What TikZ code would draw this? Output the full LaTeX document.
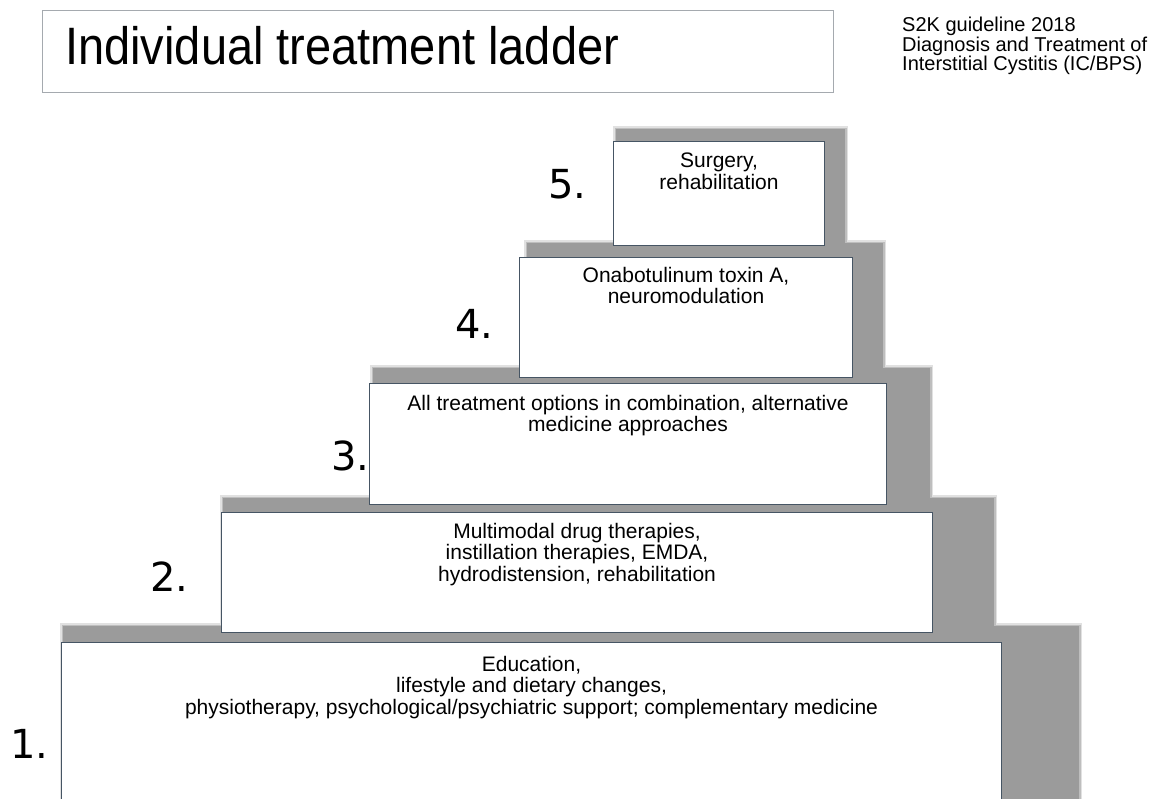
\documentclass[tikz,border=0pt]{standalone}
\usepackage{fontspec}
\setmainfont{Liberation Sans}
\newfontfamily\numfont{DejaVu Sans}
\usetikzlibrary{calc}
\definecolor{shd}{RGB}{155,155,155}
\definecolor{boxedge}{RGB}{70,85,100}
\definecolor{titleedge}{RGB}{165,170,175}
\tikzset{
  stepbox/.style={draw=boxedge, line width=1pt, fill=white, inner sep=0pt, anchor=north west},
  steptext/.style={font=\fontsize{21}{21.5}\selectfont, align=center, anchor=north, inner sep=0pt},
  stepnum/.style={font=\numfont\fontsize{40}{40}\selectfont, anchor=base west, inner sep=0pt},
  softA/.style={draw=shd!30!white, line width=6pt},
  softB/.style={draw=shd!65!white, line width=3pt},
  shadowfill/.style={fill=shd}
}
\begin{document}
\begin{tikzpicture}[x=1pt,y=-1pt]
\clip (0,0) rectangle (1164,798);
\fill[white] (0,0) rectangle (1164,798);
% soft shadow edges
\foreach \a/\b/\c/\d in {616/129/845/250, 527/243/883/380, 373/368/930/510, 223/498/994/640, 63/626/1079/820}{
  \draw[softA] (\a,\b) rectangle (\c,\d);
}
\foreach \a/\b/\c/\d in {616/129/845/250, 527/243/883/380, 373/368/930/510, 223/498/994/640, 63/626/1079/820}{
  \draw[softB] (\a,\b) rectangle (\c,\d);
}
\foreach \a/\b/\c/\d in {616/129/845/250, 527/243/883/380, 373/368/930/510, 223/498/994/640, 63/626/1079/820}{
  \fill[shadowfill] (\a,\b) rectangle (\c,\d);
}
% title
\node[draw=titleedge, line width=0.8pt, fill=white, inner sep=0pt, anchor=north west,
      minimum width=791pt, minimum height=82pt] (tb) at (42,10) {};
\node[font=\fontsize{47}{47}\selectfont, anchor=base west, inner sep=0pt, yscale=1.12] (title) at (65,64) {Individual treatment ladder};
\node[font=\fontsize{20}{18.5}\selectfont, align=left, anchor=north west, inner sep=0pt] (hdr) at (902,17)
  {S2K guideline 2018\\Diagnosis and Treatment of\\Interstitial Cystitis (IC/BPS)};
% steps
\node[stepbox, minimum width=211pt, minimum height=104pt] (b5) at (613,141) {};
\node[stepbox, minimum width=333pt, minimum height=120pt] (b4) at (519,257) {};
\node[stepbox, minimum width=517pt, minimum height=121pt] (b3) at (369,383) {};
\node[stepbox, minimum width=711pt, minimum height=120pt] (b2) at (221,512) {};
\node[stepbox, minimum width=940pt, minimum height=180pt] (b1) at (61,642) {};
\node[steptext] (t5) at ($(b5.north)+(0,12)$) {Surgery,\\rehabilitation};
\node[steptext] (t4) at ($(b4.north)+(0,10)$) {Onabotulinum toxin A,\\neuromodulation};
\node[steptext] (t3) at ($(b3.north)+(0,12)$) {All treatment options in combination, alternative\\medicine approaches};
\node[steptext] (t2) at ($(b2.north)+(0,11)$) {Multimodal drug therapies,\\instillation therapies, EMDA,\\hydrodistension, rehabilitation};
\node[steptext] (t1) at ($(b1.north)+(0,14)$) {Education,\\lifestyle and dietary changes,\\physiotherapy, psychological/psychiatric support; complementary medicine};
% numbers
\node[stepnum] (n5) at (548,198) {5.};
\node[stepnum] (n4) at (455,338) {4.};
\node[stepnum] (n3) at (331,470) {3.};
\node[stepnum] (n2) at (150,591) {2.};
\node[stepnum] (n1) at (10,758) {1.};
\end{tikzpicture}
\end{document}
